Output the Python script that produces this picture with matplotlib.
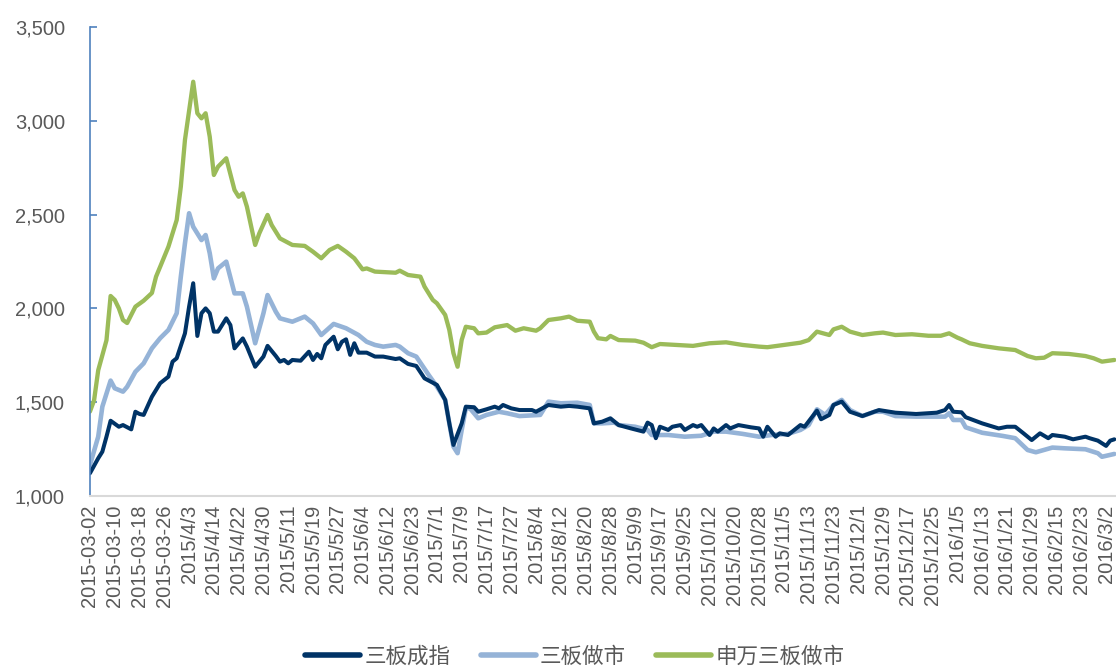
import matplotlib
matplotlib.use("Agg")
import matplotlib.pyplot as plt
from matplotlib.ticker import FuncFormatter

plt.rcParams["font.family"] = ["Liberation Sans", "Noto Sans CJK SC", "DejaVu Sans"]

# ------------------------------------------------------------------------------
# Data: trading-day index -> index level
# ------------------------------------------------------------------------------

n_days = 249

tick_labels = [
    "2015-03-02", "2015-03-10", "2015-03-18", "2015-03-26", "2015/4/3",
    "2015/4/14", "2015/4/22", "2015/4/30", "2015/5/11", "2015/5/19",
    "2015/5/27", "2015/6/4", "2015/6/12", "2015/6/23", "2015/7/1",
    "2015/7/9", "2015/7/17", "2015/7/27", "2015/8/4", "2015/8/12",
    "2015/8/20", "2015/8/28", "2015/9/9", "2015/9/17", "2015/9/25",
    "2015/10/12", "2015/10/20", "2015/10/28", "2015/11/5", "2015/11/13",
    "2015/11/23", "2015/12/1", "2015/12/9", "2015/12/17", "2015/12/25",
    "2016/1/5", "2016/1/13", "2016/1/21", "2016/1/29", "2016/2/15",
    "2016/2/23", "2016/3/2",
]

# 三板成指
chengzhi_idx = [
    0, 2, 3, 4, 5, 7, 8, 10, 11, 12, 13, 15, 17, 19, 20, 21, 23, 24, 25, 26,
    27, 28, 29, 30, 31, 33, 34, 35, 37, 38, 40, 42, 43, 45, 46, 47, 48, 49, 51, 53,
    54, 55, 56, 57, 59, 60, 61, 62, 63, 64, 65, 67, 69, 71, 74, 75, 77, 79, 81, 84,
    86, 87, 88, 90, 91, 93, 94, 96, 98, 99, 100, 102, 104, 107, 108, 111, 114, 116, 118, 121,
    122, 124, 126, 128, 131, 134, 135, 136, 137, 138, 140, 141, 143, 144, 146, 147, 148, 150, 151, 152,
    154, 155, 157, 160, 162, 163, 164, 166, 167, 169, 172, 173, 176, 177, 179, 180, 182, 184, 187, 191,
    195, 200, 205, 207, 208, 209, 211, 212, 216, 220, 222, 224, 226, 228, 230, 232, 233, 236, 238, 241,
    242, 244, 246, 247, 248,
]
chengzhi_val = [
    1121, 1201, 1236, 1316, 1401, 1369, 1378, 1355, 1449, 1437, 1432, 1529, 1601, 1636, 1716, 1734, 1867, 2009, 2134, 1853,
    1974, 2000, 1974, 1876, 1876, 1947, 1911, 1787, 1840, 1796, 1689, 1743, 1800, 1746, 1716, 1725, 1707, 1725, 1721, 1769,
    1725, 1757, 1734, 1805, 1849, 1782, 1822, 1835, 1752, 1814, 1764, 1764, 1743, 1743, 1730, 1734, 1704, 1693, 1627, 1592,
    1512, 1387, 1272, 1387, 1476, 1473, 1449, 1462, 1476, 1467, 1485, 1467, 1458, 1458, 1449, 1485, 1476, 1480, 1476, 1467,
    1387, 1396, 1414, 1378, 1360, 1343, 1391, 1378, 1308, 1369, 1352, 1369, 1378, 1352, 1378, 1369, 1378, 1325, 1360, 1343,
    1378, 1360, 1378, 1366, 1360, 1316, 1369, 1316, 1334, 1325, 1378, 1369, 1455, 1409, 1432, 1485, 1503, 1449, 1426, 1458,
    1444, 1437, 1444, 1458, 1485, 1449, 1446, 1420, 1387, 1360, 1369, 1369, 1334, 1298, 1334, 1308, 1325, 1316, 1302, 1316,
    1308, 1295, 1267, 1295, 1302,
]

# 三板做市
zuoshi_idx = [
    0, 2, 3, 5, 6, 8, 9, 11, 13, 15, 17, 19, 21, 22, 23, 24, 25, 27, 28, 29,
    30, 31, 33, 35, 37, 38, 40, 42, 43, 45, 46, 49, 52, 54, 56, 59, 62, 65, 67, 69,
    71, 74, 75, 77, 79, 82, 84, 86, 87, 88, 89, 90, 91, 92, 94, 96, 99, 101, 104, 109,
    111, 114, 118, 121, 122, 124, 127, 128, 132, 135, 136, 140, 144, 148, 151, 154, 158, 162, 165, 169,
    172, 174, 176, 178, 180, 182, 184, 187, 190, 192, 195, 200, 207, 208, 209, 211, 212, 216, 221, 224,
    227, 229, 233, 236, 241, 244, 245, 248,
]
zuoshi_val = [
    1165, 1316, 1476, 1615, 1574, 1556, 1582, 1662, 1707, 1787, 1841, 1885, 1974, 2169, 2347, 2507, 2435, 2364, 2391, 2294,
    2160, 2213, 2249, 2080, 2080, 2009, 1814, 1974, 2071, 1982, 1947, 1929, 1956, 1920, 1858, 1917, 1894, 1858, 1822, 1805,
    1796, 1805, 1796, 1761, 1743, 1645, 1583, 1512, 1387, 1263, 1228, 1352, 1467, 1467, 1414, 1432, 1449, 1441, 1426, 1432,
    1503, 1494, 1497, 1485, 1387, 1387, 1391, 1378, 1369, 1352, 1325, 1325, 1316, 1321, 1343, 1343, 1331, 1316, 1325, 1331,
    1352, 1378, 1462, 1432, 1485, 1512, 1458, 1426, 1449, 1449, 1426, 1423, 1423, 1441, 1405, 1405, 1366, 1337, 1320, 1308,
    1245, 1233, 1258, 1254, 1249, 1228, 1209, 1224,
]

# 申万三板做市
shenwan_idx = [
    0, 1, 2, 4, 5, 6, 7, 8, 9, 11, 13, 15, 16, 17, 19, 21, 22, 23, 25, 26,
    27, 28, 29, 30, 31, 33, 35, 36, 37, 38, 40, 41, 43, 44, 46, 49, 52, 54, 56, 58,
    60, 62, 64, 66, 67, 69, 74, 75, 77, 80, 81, 83, 84, 86, 87, 88, 89, 90, 91, 93,
    94, 96, 98, 101, 103, 105, 108, 109, 111, 114, 116, 118, 121, 122, 123, 125, 126, 128, 132, 134,
    136, 138, 142, 146, 150, 154, 158, 162, 164, 168, 172, 174, 176, 179, 180, 182, 184, 187, 190, 192,
    195, 199, 203, 206, 208, 210, 211, 213, 216, 220, 224, 227, 229, 231, 233, 237, 241, 243, 245, 248,
]
shenwan_val = [
    1450, 1510, 1670, 1830, 2066, 2045, 2000, 1938, 1922, 2009, 2041, 2082, 2169, 2222, 2329, 2471, 2649, 2898, 3208, 3040,
    3013, 3040, 2915, 2711, 2755, 2800, 2631, 2595, 2613, 2542, 2338, 2400, 2498, 2444, 2373, 2338, 2333, 2302, 2267, 2311,
    2333, 2302, 2267, 2208, 2213, 2196, 2190, 2201, 2178, 2169, 2116, 2045, 2027, 1965, 1885, 1761, 1689, 1832, 1902, 1894,
    1867, 1871, 1899, 1911, 1881, 1894, 1881, 1894, 1938, 1947, 1956, 1934, 1929, 1876, 1841, 1835, 1853, 1831, 1828, 1817,
    1793, 1810, 1805, 1800, 1814, 1819, 1805, 1796, 1793, 1805, 1817, 1831, 1876, 1858, 1888, 1902, 1876, 1858, 1867, 1871,
    1858, 1862, 1854, 1854, 1867, 1844, 1835, 1814, 1800, 1787, 1778, 1746, 1734, 1737, 1761, 1757, 1746, 1734, 1716, 1725,
]


def plot_indices():
    fig = plt.figure(figsize=(11.16, 6.66), dpi=100)
    ax = fig.add_axes([0.0806, 0.2553, 0.9194, 0.7042])

    ax.plot(zuoshi_idx, zuoshi_val, color="#95b3d7", lw=3.3,
            solid_joinstyle="round", solid_capstyle="round", label="三板做市")
    ax.plot(chengzhi_idx, chengzhi_val, color="#003366", lw=2.9,
            solid_joinstyle="round", solid_capstyle="round", label="三板成指")
    ax.plot(shenwan_idx, shenwan_val, color="#9bbb59", lw=3.1,
            solid_joinstyle="round", solid_capstyle="round", label="申万三板做市")

    ax.set_xlim(0, n_days - 0.6)
    ax.set_ylim(1000, 3500)
    ax.set_yticks(range(1000, 3501, 500))
    ax.yaxis.set_major_formatter(FuncFormatter(lambda v, p: f"{int(v):,}"))
    ax.set_xticks(range(0, len(tick_labels) * 6, 6))
    ax.set_xticklabels(tick_labels, rotation=90)

    ax.tick_params(axis="y", direction="in", length=5, width=1.2,
                   color="#4f81bd", pad=18, labelsize=14.5, labelcolor="#595959")
    ax.tick_params(axis="x", length=0, pad=6, labelsize=14.5,
                   labelcolor="#595959")

    for side in ["top", "right"]:
        ax.spines[side].set_visible(False)
    ax.spines["left"].set_color("#4f81bd")
    ax.spines["left"].set_linewidth(1.2)
    ax.spines["bottom"].set_color("#d9d9d9")
    ax.spines["bottom"].set_linewidth(1.5)

    # Legend order follows the reference: 三板成指, 三板做市, 申万三板做市
    handles, labels = ax.get_legend_handles_labels()
    order = [1, 0, 2]
    leg = fig.legend(
        [handles[i] for i in order], [labels[i] for i in order],
        loc="center", bbox_to_anchor=(0.515, 0.013), ncol=3,
        frameon=False, fontsize=15.5, handlelength=2.55,
        handletextpad=0.2, columnspacing=1.4, labelcolor="#595959",
        borderpad=0,
    )
    for line in leg.get_lines():
        line.set_linewidth(4)

    fig.savefig("out.png", dpi=100)


plot_indices()
